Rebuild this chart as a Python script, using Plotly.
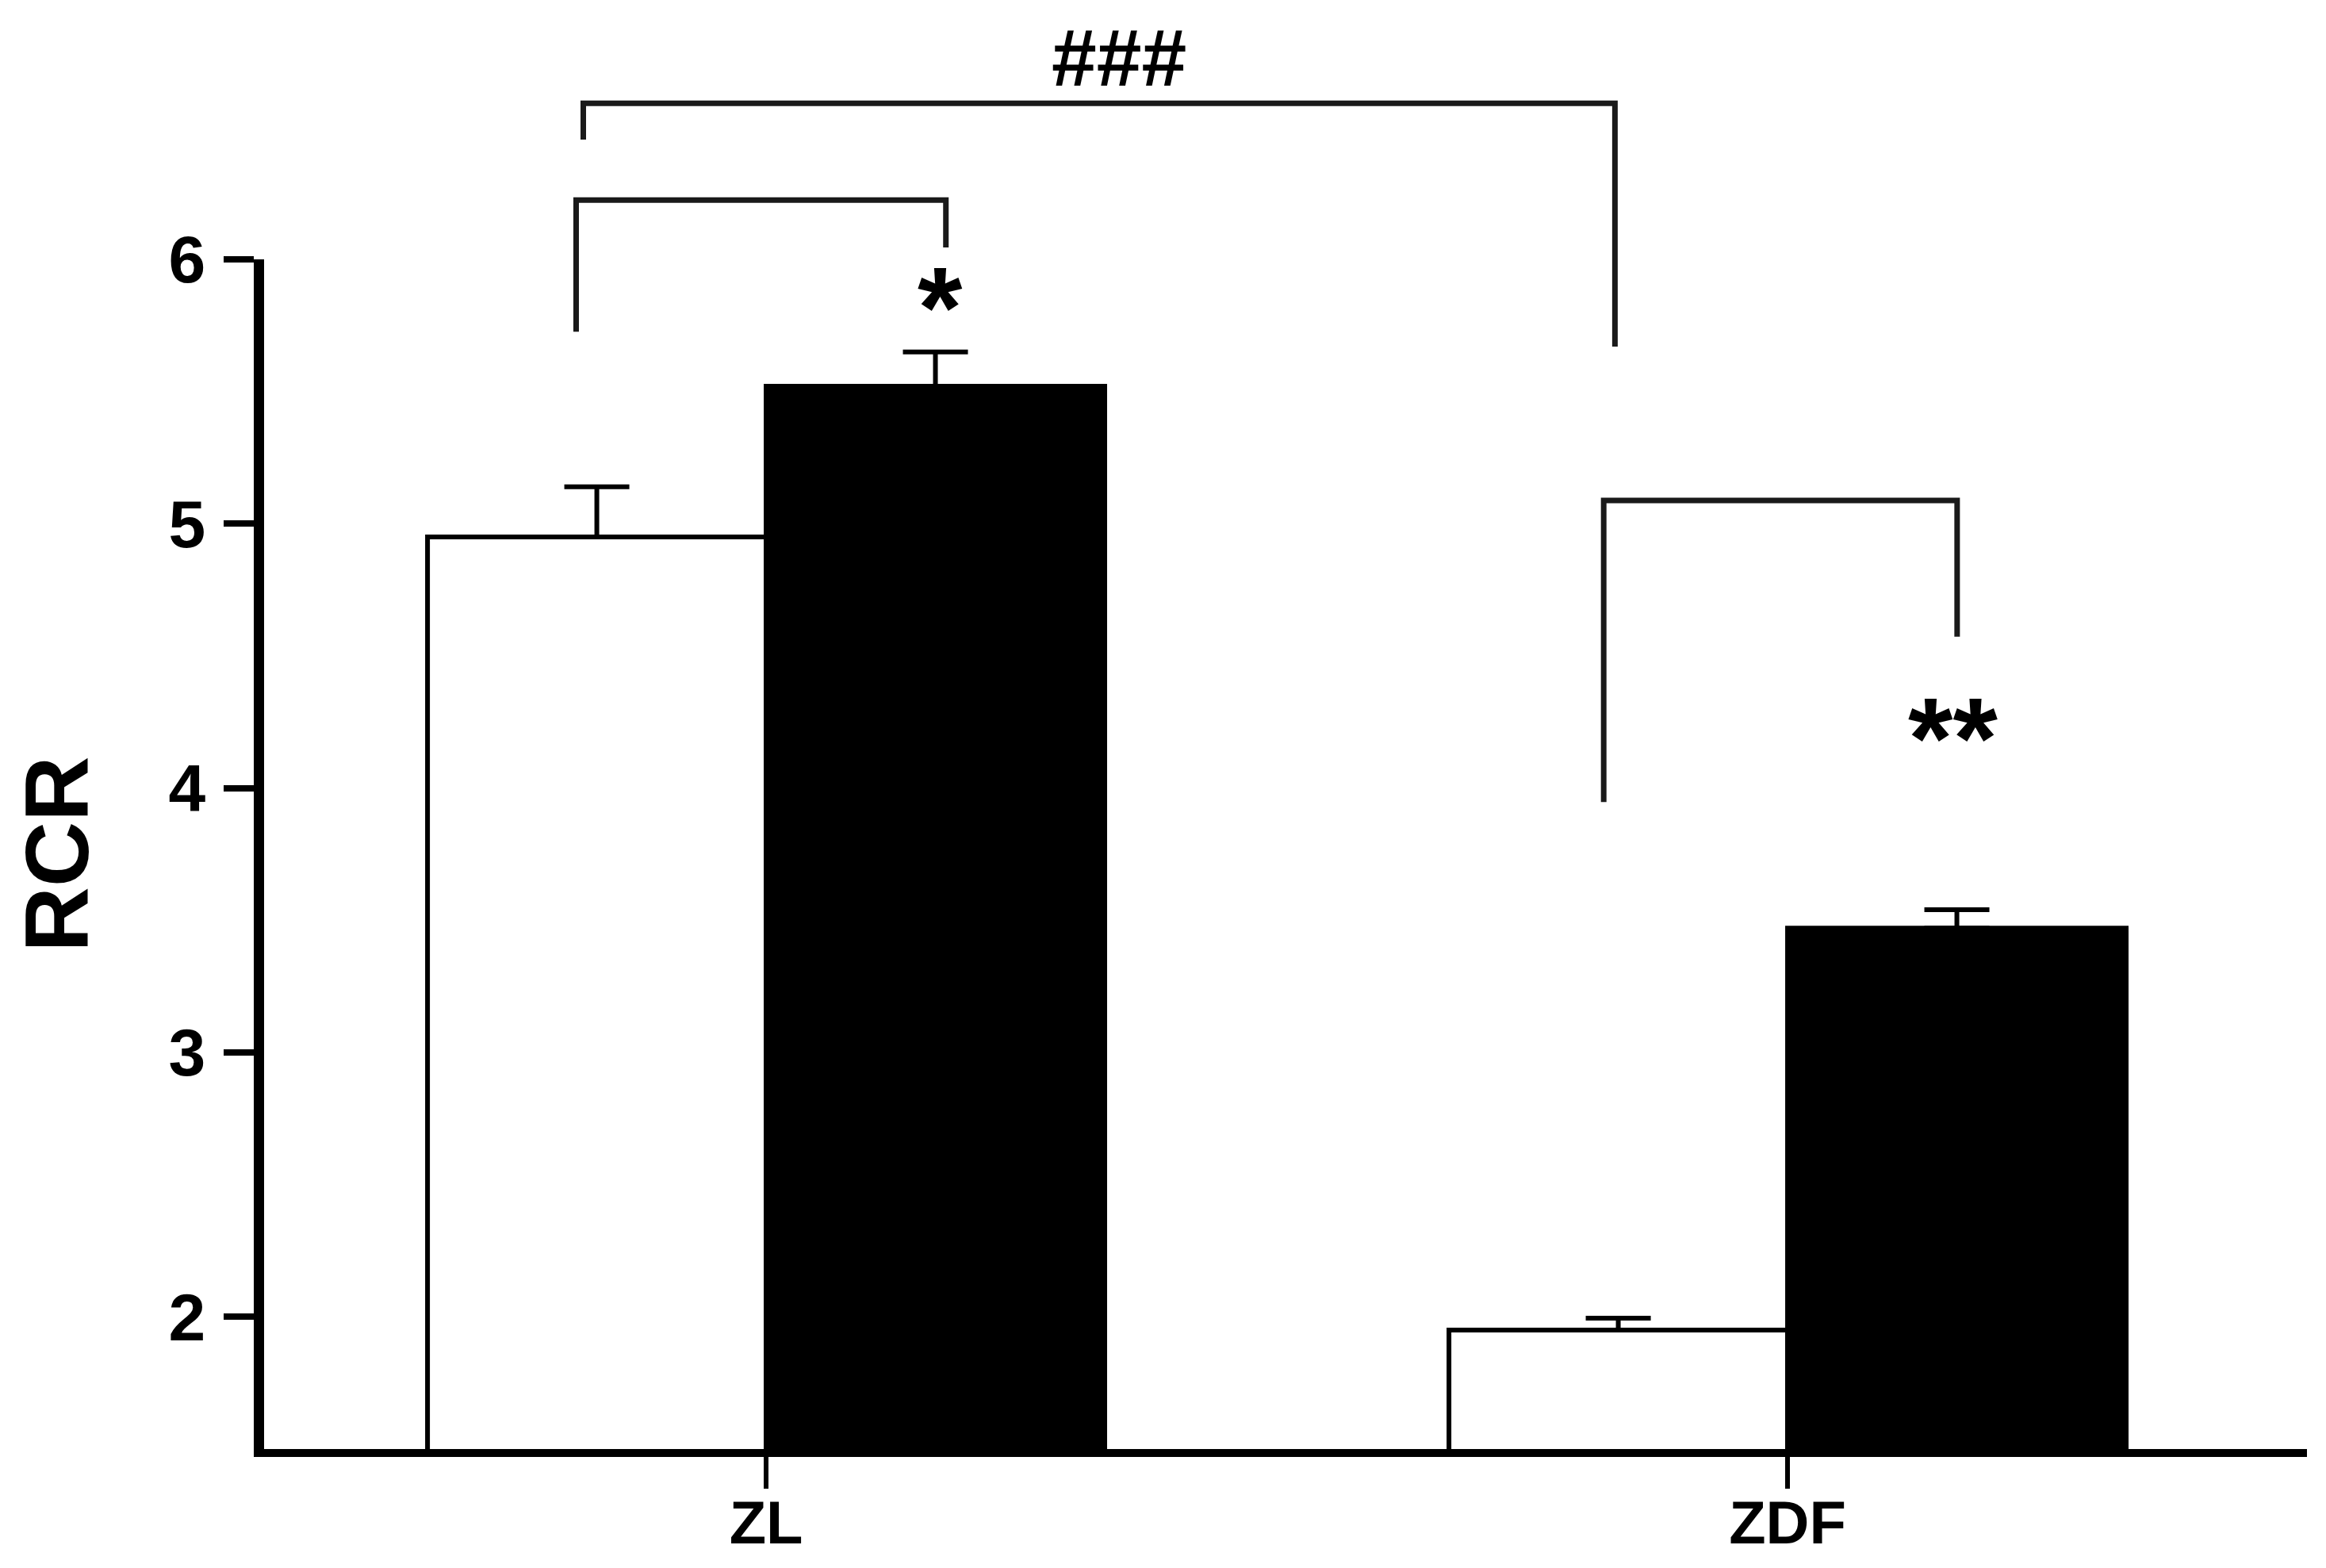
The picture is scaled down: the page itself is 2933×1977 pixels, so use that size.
import plotly.graph_objects as go

# ---------------- data ----------------
categories = ["ZL", "ZDF"]
white_values = [4.95, 1.95]
white_err = [0.19, 0.045]
black_values = [5.52, 3.47]
black_err = [0.13, 0.07]
y_tick_vals = [2, 3, 4, 5, 6]

# significance brackets (x in category units, y in data units)
bracket_x_left = [-0.179, -0.186, 0.820]
bracket_x_right = [0.831, 0.176, 1.166]
bracket_top = [6.59, 6.224, 5.088]
bracket_left_bottom = [6.453, 5.726, 3.947]
bracket_right_bottom = [5.67, 6.045, 4.573]

sig_labels = ["###", "*", "**"]
sig_x = [0.3455, 0.170, 1.162]
sig_y = [6.762, 5.817, 4.188]
sig_size = [102, 145, 145]

Y_MIN, Y_MAX = 1.5, 6.0
FONT = "Liberation Sans, Arial, sans-serif"


def ydom(v):
    return (v - Y_MIN) / (Y_MAX - Y_MIN)


fig = go.Figure()
fig.add_trace(go.Bar(
    x=categories, y=white_values, name="white",
    marker=dict(color="white", line=dict(color="black", width=6)),
    error_y=dict(type="data", symmetric=False, array=white_err, arrayminus=[0, 0],
                 color="black", thickness=6, width=41),
))
fig.add_trace(go.Bar(
    x=categories, y=black_values, name="black",
    marker=dict(color="black", line=dict(color="black", width=6)),
    error_y=dict(type="data", symmetric=False, array=black_err, arrayminus=[0, 0],
                 color="black", thickness=6, width=41),
))

for xl, xr, yt, yl, yr in zip(bracket_x_left, bracket_x_right, bracket_top,
                              bracket_left_bottom, bracket_right_bottom):
    path = (f"M {xl},{ydom(yl)} L {xl},{ydom(yt)} "
            f"L {xr},{ydom(yt)} L {xr},{ydom(yr)}")
    fig.add_shape(type="path", path=path, xref="x", yref="y domain",
                  line=dict(color="#1a1a1a", width=7), layer="above")

for t, x, y, s in zip(sig_labels, sig_x, sig_y, sig_size):
    fig.add_annotation(text=t, x=x, y=ydom(y), xref="x", yref="y domain",
                       showarrow=False, xanchor="center", yanchor="middle",
                       font=dict(family=FONT, size=s, color="black", weight="bold"))

fig.update_layout(
    width=2933, height=1977,
    margin=dict(l=325, r=32, t=319, b=158, autoexpand=False),
    paper_bgcolor="white", plot_bgcolor="white",
    barmode="group", bargap=0.337, bargroupgap=0,
    showlegend=False,
    font=dict(family=FONT, color="black"),
)
fig.update_xaxes(
    range=[-0.4915, 1.5085], showgrid=False, zeroline=False, automargin=False,
    showline=True, linecolor="black", linewidth=10,
    ticks="outside", ticklen=40, tickwidth=6, tickcolor="black",
    tickfont=dict(family=FONT, size=76, color="black", weight="bold"),
    ticklabelstandoff=-22,
)
fig.update_yaxes(
    range=[Y_MIN, Y_MAX], showgrid=False, zeroline=False, automargin=False,
    showline=True, linecolor="black", linewidth=13,
    tickmode="array", tickvals=y_tick_vals,
    ticks="outside", ticklen=38, tickwidth=8, tickcolor="black",
    tickfont=dict(family=FONT, size=84, color="black", weight="bold"),
    ticklabelstandoff=6,
    title=dict(text="RCR", font=dict(family=FONT, size=114, color="black", weight="bold"),
               standoff=72),
)

fig.write_html("out.html")
